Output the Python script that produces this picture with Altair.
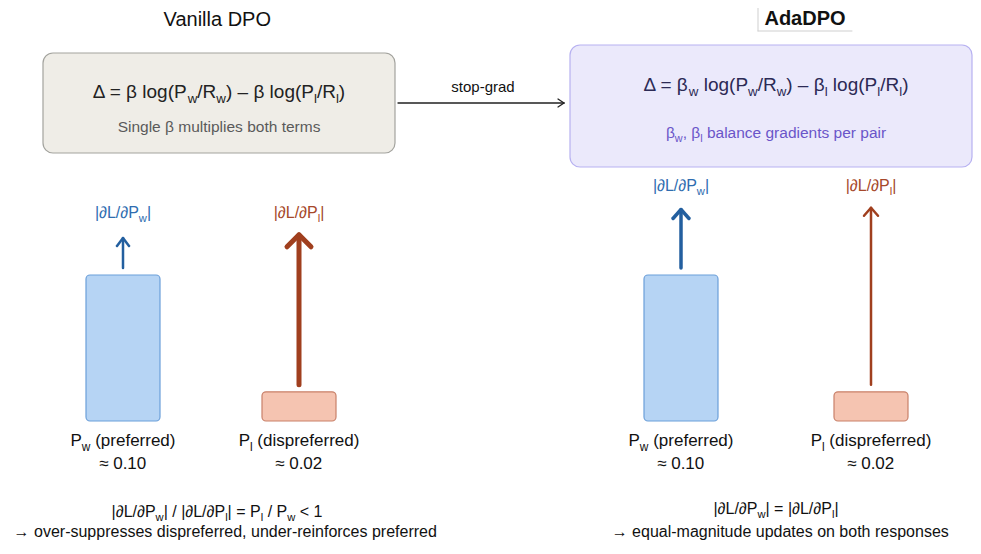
import altair as alt
import pandas as pd

# ---------------- data ----------------
panel_titles = ["Vanilla DPO", "AdaDPO"]
formulas = [
    [("Δ = β log(P", 0), ("w", 1), ("/R", 0), ("w", 1), (") – β log(P", 0), ("l", 1), ("/R", 0), ("l", 1), (")", 0)],
    [("Δ = β", 0), ("w", 1), (" log(P", 0), ("w", 1), ("/R", 0), ("w", 1), (") – β", 0), ("l", 1),
     (" log(P", 0), ("l", 1), ("/R", 0), ("l", 1), (")", 0)],
]
box_notes = [
    [("Single β multiplies both terms", 0)],
    [("β", 0), ("w", 1), (", β", 0), ("l", 1), (" balance gradients per pair", 0)],
]
connector_label = "stop-grad"
response_subs = ["w", "l"]
response_desc = [" (preferred)", " (dispreferred)"]
probabilities = [0.10, 0.02]
prob_labels = ["≈ 0.10", "≈ 0.02"]
# displayed gradient-arrow magnitudes (relative units) per panel: [preferred, dispreferred]
grad_magnitude = [[10, 50], [19.5, 59]]
conclusion_line1 = [
    [("|∂L/∂P", 0), ("w", 1), ("| / |∂L/∂P", 0), ("l", 1), ("| = P", 0), ("l", 1), (" / P", 0), ("w", 1), (" < 1", 0)],
    [("|∂L/∂P", 0), ("w", 1), ("| = |∂L/∂P", 0), ("l", 1), ("|", 0)],
]
conclusion_line2 = [
    "→ over-suppresses dispreferred, under-reinforces preferred",
    "→ equal-magnitude updates on both responses",
]

# ---------------- layout / style ----------------
FONT = "Liberation Sans"
PX_PER_PROB = 1460
PX_PER_GRAD = 3
BAR_BASE = 421
BAR_W = 74
panel_cx = [219, 776]
bar_cx = [[123, 299], [681, 871]]
formula_y = [92, 85]
note_y = [127, 133]
title_pos = [(218, 20), (805, 19)]
boxes = [
    dict(x=43, x2=395, y=53, y2=153, fill="#efede7", stroke="#a3a39e"),
    dict(x=570, x2=972, y=45, y2=167, fill="#ebe9fb", stroke="#b7b1f1"),
]
formula_color = ["#222222", "#2c2a55"]
note_color = ["#5a5a5a", "#6a55c9"]
bar_fill = ["#b6d4f4", "#f5c4b1"]
bar_stroke = ["#6b9fd9", "#c98069"]
arrow_color = ["#235f9f", "#a03f1e"]
label_color = ["#2f6db0", "#a6482a"]
arrow_sw = [[2.5, 5], [3.5, 2.5]]
head_size = [[(6, 8), (12, 12)], [(8, 9), (7, 8)]]

W_TABLE = {
    " ": 278, "(": 333, ")": 333, ",": 278, "-": 333, ".": 278, "/": 278,
    "<": 584, "=": 584, ">": 584, "|": 260, "–": 556, "Δ": 668, "β": 575, "∂": 494,
    "≈": 584, "→": 600,
    "A": 667, "B": 667, "C": 722, "D": 722, "E": 667, "F": 611, "G": 778, "H": 722, "I": 278,
    "L": 556, "M": 833, "N": 722, "O": 778, "P": 667, "R": 722, "S": 667, "T": 611, "V": 667,
    "a": 556, "b": 556, "c": 500, "d": 556, "e": 556, "f": 278, "g": 556, "h": 556, "i": 222,
    "j": 222, "k": 500, "l": 222, "m": 833, "n": 556, "o": 556, "p": 556, "q": 556, "r": 333,
    "s": 500, "t": 278, "u": 556, "v": 500, "w": 722, "x": 500, "y": 500, "z": 500,
}
for d in "0123456789":
    W_TABLE[d] = 556


def tw(s, size):
    return sum(W_TABLE.get(ch, 556) for ch in s) * size / 1000.0


def rich_rows(segments, cx, cy, size, color, sub_scale=0.7, sub_dy=0.36):
    widths = []
    for t, sub in segments:
        widths.append(tw(t, size * sub_scale if sub else size))
    x = cx - sum(widths) / 2
    rows = []
    for (t, sub), w in zip(segments, widths):
        fs = size * sub_scale if sub else size
        stripped = t.lstrip(" ")
        lead = tw(t[: len(t) - len(stripped)], fs)
        rows.append(dict(x=x + lead, y=cy + (size * sub_dy if sub else 0), text=stripped.rstrip(" "),
                         size=fs, color=color))
        x += w
    return rows


XS = alt.Scale(domain=[8, 973], nice=False, zero=False)
YS = alt.Scale(domain=[8, 546], nice=False, zero=False, reverse=True)
X = lambda f="x": alt.X(f"{f}:Q", scale=XS, axis=None)
Y = lambda f="y": alt.Y(f"{f}:Q", scale=YS, axis=None)

# ---------------- build tables ----------------
text_rows = []
rect_rows = []
rule_rows = []

# titles
text_rows += rich_rows([(panel_titles[0], 0)], title_pos[0][0], title_pos[0][1], 20, "#111111")
bold_title = pd.DataFrame([dict(x=title_pos[1][0], y=title_pos[1][1], text=panel_titles[1])])
# frame lines around AdaDPO title
rule_rows.append(dict(x=758, y=8, x2=758, y2=31, color="#cfcfcf", sw=1))
rule_rows.append(dict(x=758, y=31, x2=852, y2=31, color="#cfcfcf", sw=1))

for p in range(2):
    b = boxes[p]
    rect_rows.append(dict(x=b["x"], x2=b["x2"], y=b["y"], y2=b["y2"], fill=b["fill"], stroke=b["stroke"], r=10, sw=1.2))
    text_rows += rich_rows(formulas[p], panel_cx[p], formula_y[p], 19, formula_color[p])
    text_rows += rich_rows(box_notes[p], panel_cx[p], note_y[p], 15.5, note_color[p])

    tips = []
    for i in range(2):
        cx = bar_cx[p][i]
        top = BAR_BASE - probabilities[i] * PX_PER_PROB
        rect_rows.append(dict(x=cx - BAR_W / 2, x2=cx + BAR_W / 2, y=top, y2=BAR_BASE,
                              fill=bar_fill[i], stroke=bar_stroke[i], r=4, sw=1.2))
        start = top - 7
        tip = start - grad_magnitude[p][i] * PX_PER_GRAD
        tips.append(tip)
        sw = arrow_sw[p][i]
        hw, hh = head_size[p][i]
        rule_rows.append(dict(x=cx, y=start, x2=cx, y2=tip + sw * 0.3, color=arrow_color[i], sw=sw))
        rule_rows.append(dict(x=cx, y=tip, x2=cx - hw, y2=tip + hh, color=arrow_color[i], sw=sw))
        rule_rows.append(dict(x=cx, y=tip, x2=cx + hw, y2=tip + hh, color=arrow_color[i], sw=sw))
        # response labels
        text_rows += rich_rows([("P", 0), (response_subs[i], 1), (response_desc[i], 0)], cx, 441, 17, "#111111")
        text_rows += rich_rows([(prob_labels[i], 0)], cx, 464, 17, "#111111")
    lab_y = min(tips) - 22
    for i in range(2):
        text_rows += rich_rows([("|∂L/∂P", 0), (response_subs[i], 1), ("|", 0)], bar_cx[p][i], lab_y, 16, label_color[i])

    text_rows += rich_rows(conclusion_line1[p], [217, 776][p], [512, 509][p], 16, "#111111")
    text_rows += rich_rows([(conclusion_line2[p], 0)], [222, 777][p], 532, 16, "#111111")

# stop-grad connector
rule_rows.append(dict(x=398, y=103, x2=564, y2=103, color="#222222", sw=1.3))
rule_rows.append(dict(x=564, y=103, x2=558, y2=99, color="#222222", sw=1.3))
rule_rows.append(dict(x=564, y=103, x2=558, y2=107, color="#222222", sw=1.3))
text_rows += rich_rows([(connector_label, 0)], 483, 87, 15, "#111111")

text_df = pd.DataFrame(text_rows)
rect_df = pd.DataFrame(rect_rows)
rule_df = pd.DataFrame(rule_rows)

boxes_big = alt.Chart(rect_df[rect_df.r == 10]).mark_rect(cornerRadius=10).encode(
    x=X(), x2="x2:Q", y=Y(), y2="y2:Q",
    fill=alt.Fill("fill:N", scale=None), stroke=alt.Stroke("stroke:N", scale=None),
    strokeWidth=alt.StrokeWidth("sw:Q", scale=None),
)
bars = alt.Chart(rect_df[rect_df.r == 4]).mark_rect(cornerRadius=4).encode(
    x=X(), x2="x2:Q", y=Y(), y2="y2:Q",
    fill=alt.Fill("fill:N", scale=None), stroke=alt.Stroke("stroke:N", scale=None),
    strokeWidth=alt.StrokeWidth("sw:Q", scale=None),
)
rules = alt.Chart(rule_df).mark_rule(strokeCap="round").encode(
    x=X(), x2="x2:Q", y=Y(), y2="y2:Q",
    color=alt.Color("color:N", scale=None),
    strokeWidth=alt.StrokeWidth("sw:Q", scale=None),
)
texts = alt.Chart(text_df).mark_text(align="left", baseline="middle", font=FONT).encode(
    x=X(), y=Y(), text="text:N",
    size=alt.Size("size:Q", scale=None),
    color=alt.Color("color:N", scale=None),
)
title_bold = alt.Chart(bold_title).mark_text(align="center", baseline="middle", font=FONT,
                                             fontWeight="bold", fontSize=20, color="#111111").encode(
    x=X(), y=Y(), text="text:N",
)

chart = alt.layer(boxes_big, bars, rules, texts, title_bold).properties(
    width=965, height=538, padding=0, autosize=alt.AutoSizeParams(type="none"),
    background="white",
).configure_view(stroke=None)

chart.save("out.html", embed_options={"renderer": "svg", "actions": False})
